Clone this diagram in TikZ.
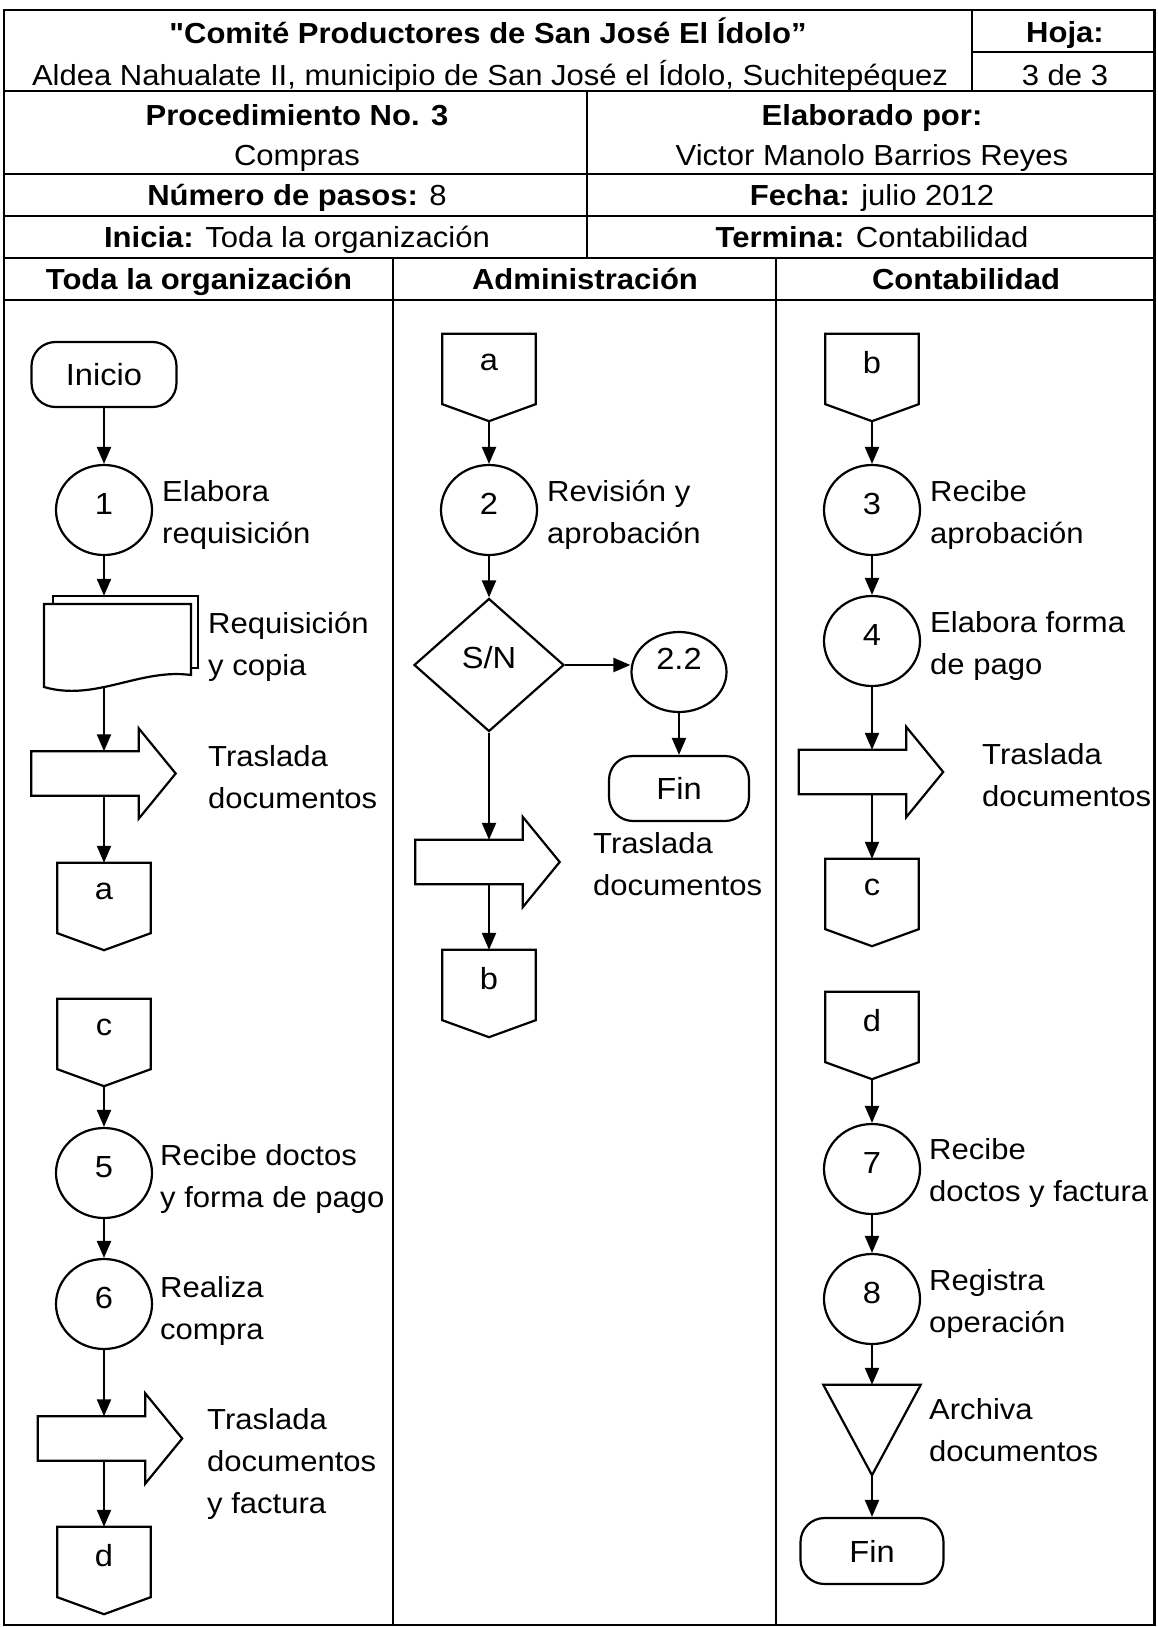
\documentclass[tikz,border=0pt]{standalone}
\usepackage{fontspec}
\setmainfont{Liberation Sans}[FakeStretch=1.07]
% same face without the TeX quote mapping, for a straight double quote
\newfontfamily\plainfont{Liberation Sans}[FakeStretch=1.07]
\usetikzlibrary{shapes.geometric,arrows.meta}

\newcommand\fcfont{\fontsize{29}{42}\selectfont}
\newcommand\shpfont{\fontsize{30.5}{36}\selectfont}

% off-page connector: name, centre of the square part, letter
\newcommand\fcoffpage[3]{%
  \node[offp] (#1) at (#2) {#3};
  \draw[shp] (#1.north west) -- (#1.north east) -- (#1.south east)
    -- ([yshift=-17pt]#1.south) -- (#1.south west) -- cycle;
  \coordinate (#1-tip) at ([yshift=-17pt]#1.south);}

% block arrow (transport): name, centre of the shaft
\newcommand\fcblockarrow[2]{%
  \node[barrow] (#1) at (#2) {};
  \draw[shp] (#1.north west) -- (#1.north east) -- ([yshift=23pt]#1.north east)
    -- ([xshift=37pt]#1.east) -- ([yshift=-23pt]#1.south east)
    -- (#1.south east) -- (#1.south west) -- cycle;}

\begin{document}
\begin{tikzpicture}[x=1pt, y=-1pt,
  every node/.style={font=\fcfont},
  frame/.style={line width=2.7pt},
  shp/.style={draw, line width=2.2pt, line join=miter},
  flow/.style={line width=2.2pt, -{Triangle[length=17pt,width=14pt]}},
  proc/.style={ellipse, draw, line width=2.2pt, minimum width=96pt,
    minimum height=90pt, inner sep=0pt, text depth=12pt, font=\shpfont},
  term/.style={rectangle, rounded corners=24pt, draw, line width=2.2pt,
    minimum width=145pt, minimum height=65pt, inner sep=0pt, font=\shpfont},
  decis/.style={diamond, draw, line width=2.2pt, minimum width=150pt,
    minimum height=133pt, inner sep=0pt, text depth=16pt, font=\shpfont},
  offp/.style={rectangle, minimum width=93pt, minimum height=70pt,
    inner sep=0pt, text depth=14pt, font=\shpfont},
  barrow/.style={rectangle, minimum width=107pt, minimum height=44pt, inner sep=0pt},
  lbl/.style={anchor=west, align=left, inner sep=0pt},
  hd/.style={inner sep=0pt, text height=21pt, text depth=6pt},
  hdb/.style={hd, font=\fcfont\bfseries}]

\fill[white] (0,0) rectangle (1157,1627);
\useasboundingbox (0,0) rectangle (1157,1627);

% ---------- header grid ----------
\draw[frame] (4,10) rectangle (1154.5,1625);
\draw[frame] (972,10) -- (972,91);
\draw[frame] (972,52) -- (1154.5,52);
\draw[frame] (4,91) -- (1154.5,91);
\draw[frame] (587,91) -- (587,258);
\draw[frame] (4,174) -- (1154.5,174);
\draw[frame] (4,216) -- (1154.5,216);
\draw[frame] (4,258) -- (1154.5,258);
\draw[frame] (4,300) -- (1154.5,300);
\draw[frame] (393,258) -- (393,1625);
\draw[frame] (776,258) -- (776,1625);

% ---------- header texts ----------
\node[hdb] (title) at (488,36) {{\plainfont\bfseries"}Comité Productores de San José El Ídolo”};
\node[hd] (place) at (490,78) {Aldea Nahualate II, municipio de San José el Ídolo, Suchitepéquez};
\node[hdb] (hoja) at (1065,35) {Hoja:};
\node[hd] (sheet) at (1065,78) {3 de 3};
\node[hdb] (proc) at (297,118) {Procedimiento No. 3};
\node[hd] (procname) at (297,158) {Compras};
\node[hdb] (author) at (872,118) {Elaborado por:};
\node[hd] (authorname) at (872,158) {Victor Manolo Barrios Reyes};
\node[hd] (steps) at (297,198) {\textbf{Número de pasos:} 8};
\node[hd] (date) at (872,198) {\textbf{Fecha:} julio 2012};
\node[hd] (starts) at (297,240) {\textbf{Inicia:} Toda la organización};
\node[hd] (ends) at (872,240) {\textbf{Termina:} Contabilidad};
\node[hdb] (lane1) at (199,282) {Toda la organización};
\node[hdb] (lane2) at (585,282) {Administración};
\node[hdb] (lane3) at (966,282) {Contabilidad};

% ---------- lane 1: Toda la organización ----------
\node[term] (inicio) at (104,374.5) {Inicio};
\node[proc] (p1) at (104,510) {1};
\node[lbl] (l1) at (162,514.5) {\strut Elabora\\\strut requisición};

\node[rectangle, minimum width=145pt, minimum height=72pt, inner sep=0pt] (docb) at (125.5,632) {};
\draw[shp, fill=white] (docb.north west) rectangle (docb.south east);
\draw[shp, fill=white] (44,604) -- (191,604) -- (191,675)
  .. controls (140,668) and (95,702) .. (44,687) -- cycle;
\coordinate (docfoot) at (104,688);
\node[lbl] (l2) at (208,646.5) {\strut Requisición\\\strut y copia};

\fcblockarrow{t1}{85,773.5}
\node[lbl] (l3) at (208,779) {\strut Traslada\\\strut documentos};
\fcoffpage{ca1}{104,898}{a}

\fcoffpage{cc1}{104,1034}{c}
\node[proc] (p5) at (104,1173) {5};
\node[lbl] (l4) at (160,1178.5) {\strut Recibe doctos\\\strut y forma de pago};
\node[proc] (p6) at (104,1304) {6};
\node[lbl] (l5) at (160,1310.5) {\strut Realiza\\\strut compra};
\fcblockarrow{t2}{91.5,1438.5}
\node[lbl] (l6) at (207,1463) {\strut Traslada\\\strut documentos\\\strut y factura};
\fcoffpage{cd1}{104,1562}{d}

\draw[flow] (inicio) -- (p1);
\draw[flow] (p1) -- (p1.south |- docb.north);
\draw[flow] (docfoot) -- (docfoot |- t1.north);
\draw[flow] (t1.south -| ca1) -- (ca1);
\draw[flow] (cc1-tip) -- (p5);
\draw[flow] (p5) -- (p6);
\draw[flow] (p6) -- (p6 |- t2.north);
\draw[flow] (t2.south -| cd1) -- (cd1);

% ---------- lane 2: Administración ----------
\fcoffpage{ca2}{489,369}{a}
\node[proc] (p2) at (489,510) {2};
\node[lbl] (l7) at (547,514) {\strut Revisión y\\\strut aprobación};
\node[decis] (sn) at (489,665) {S/N};
\node[proc, minimum width=95pt, minimum height=80pt, text depth=26pt] (p22) at (679,672) {2.2};
\node[term, minimum width=140pt] (fin1) at (679,788.5) {Fin};
\fcblockarrow{t3}{469,862}
\node[lbl] (l8) at (593,866.5) {\strut Traslada\\\strut documentos};
\fcoffpage{cb2}{489,985}{b}

\draw[flow] (ca2-tip) -- (p2);
\draw[flow] (p2) -- (sn);
\draw[flow] (sn.east) -- (sn.east -| p22.west);
\draw[flow] (p22) -- (fin1);
\draw[flow] (sn.south) -- (sn.south |- t3.north);
\draw[flow] (t3.south -| cb2) -- (cb2);

% ---------- lane 3: Contabilidad ----------
\fcoffpage{cb3}{872,369}{b}
\node[proc] (p3) at (872,510) {3};
\node[lbl] (l9) at (930,514) {\strut Recibe\\\strut aprobación};
\node[proc] (p4) at (872,641) {4};
\node[lbl] (l10) at (930,645) {\strut Elabora forma\\\strut de pago};
\fcblockarrow{t4}{852.5,772}
\node[lbl] (l11) at (982,777.5) {\strut Traslada\\\strut documentos};
\fcoffpage{cc3}{872,894}{c}

\fcoffpage{cd3}{872,1027}{d}
\node[proc] (p7) at (872,1169) {7};
\node[lbl] (l12) at (929,1172) {\strut Recibe\\\strut doctos y factura};
\node[proc] (p8) at (872,1299) {8};
\node[lbl] (l13) at (929,1303) {\strut Registra\\\strut operación};
\node[rectangle, minimum width=97pt, minimum height=90pt, inner sep=0pt] (arch) at (872,1430) {};
\draw[shp] (arch.north west) -- (arch.north east) -- (arch.south) -- cycle;
\node[lbl] (l14) at (929,1432.5) {\strut Archiva\\\strut documentos};
\node[term, minimum width=143pt, minimum height=66pt] (fin2) at (872,1551) {Fin};

\draw[flow] (cb3-tip) -- (p3);
\draw[flow] (p3) -- (p4);
\draw[flow] (p4) -- (p4 |- t4.north);
\draw[flow] (t4.south -| cc3) -- (cc3);
\draw[flow] (cd3-tip) -- (p7);
\draw[flow] (p7) -- (p8);
\draw[flow] (p8) -- (arch.north);
\draw[flow] (arch.south) -- (fin2);
\end{tikzpicture}
\end{document}
